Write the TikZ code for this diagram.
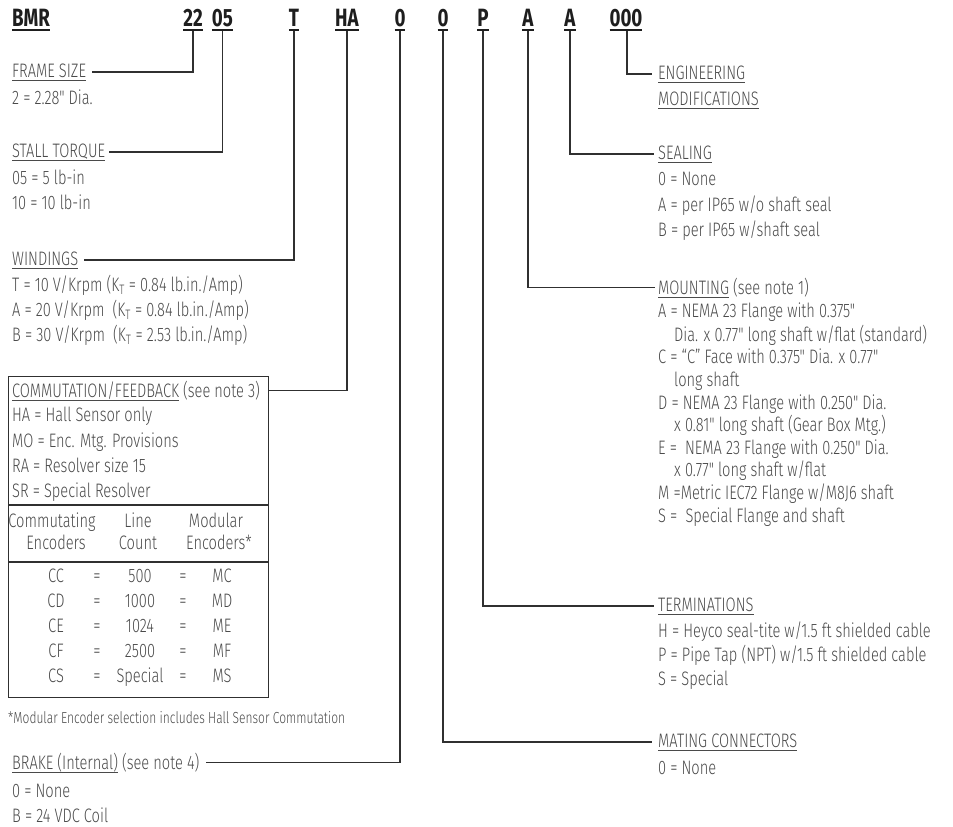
\documentclass[tikz,border=0pt]{standalone}
\usepackage{fontspec}
\IfFontExistsTF{Fira Sans Light}{%
  \setmainfont{Fira Sans Light}[FakeStretch=0.75, Ligatures=TeXOff, BoldFont={Fira Sans Bold}]}{%
  \setmainfont{Fira Sans}[FakeStretch=0.75, Ligatures=TeXOff]}
\definecolor{txtgray}{HTML}{4A4A4A}
\definecolor{linegray}{HTML}{303030}
\definecolor{codeblack}{HTML}{1E1E1E}
\newcommand\ulx[3]{\setbox0=\hbox{#3}\leavevmode\rlap{\rule[-#1]{\wd0}{#2}}\box0\relax}
\newcommand\hd[1]{\ulx{3.5pt}{0.9pt}{#1}}
\newcommand\cd[1]{\ulx{5pt}{1.8pt}{#1}}
\newcommand\KT{K\textsubscript{T}}
\begin{document}
\begin{tikzpicture}[x=1pt,y=-1pt,
  txt/.style={anchor=base west, inner sep=0pt, text=txtgray, font=\fontsize{19.5}{22}\selectfont},
  ctr/.style={anchor=base, inner sep=0pt, text=txtgray, font=\fontsize{19.5}{22}\selectfont},
  code/.style={anchor=base, inner sep=0pt, text=codeblack, font=\fontsize{25}{30}\selectfont\bfseries},
  ln/.style={draw=linegray, line width=1.2pt}]
\useasboundingbox (0,0) rectangle (953,827);
% ---------- code row ----------
\node[code] (cBMR) at (31,26) {\cd{BMR}};
\node[code] (c22) at (193,26) {\cd{22}};
\node[code] (c05) at (222.5,26) {\cd{05}};
\node[code] (cT) at (294,26) {\cd{T}};
\node[code] (cHA) at (347,26) {\cd{HA}};
\node[code] (cB0) at (400,26) {\cd{0}};
\node[code] (cM0) at (443,26) {\cd{0}};
\node[code] (cP) at (483,26) {\cd{P}};
\node[code] (cA1) at (528,26) {\cd{A}};
\node[code] (cA2) at (570,26) {\cd{A}};
\node[code] (c000) at (626,26) {\cd{000}};
% ---------- left column ----------
\node[txt] (hFrame) at (12,77) {\hd{FRAME SIZE}};
\node[txt] at (12,104) {2 = 2.28" Dia.};
\node[txt] (hStall) at (12,157) {\hd{STALL TORQUE}};
\node[txt] at (12,184) {05 = 5 lb-in};
\node[txt] at (12,209) {10 = 10 lb-in};
\node[txt] (hWind) at (12,265) {\hd{WINDINGS}};
\node[txt] at (12,291) {T = 10 V/Krpm (\KT{} = 0.84 lb.in./Amp)};
\node[txt] at (12,316) {A = 20 V/Krpm~~(\KT{} = 0.84 lb.in./Amp)};
\node[txt] at (12,341) {B = 30 V/Krpm~~(\KT{} = 2.53 lb.in./Amp)};
% box
\node[draw=linegray, line width=1.2pt, anchor=north west, minimum width=260pt, minimum height=321pt, inner sep=0pt] (box) at (8,376) {};
\draw[ln] (8,505) -- (268,505);
\draw[ln] (8,562) -- (268,562);
\node[txt] (hComm) at (12,397) {\hd{COMMUTATION/FEEDBACK} (see note 3)};
\node[txt] at (12,421) {HA = Hall Sensor only};
\node[txt] at (12,447) {MO = Enc. Mtg. Provisions};
\node[txt] at (12,472) {RA = Resolver size 15};
\node[txt] at (12,497) {SR = Special Resolver};
\node[ctr] at (52,527) {Commutating};
\node[ctr] at (56,549) {Encoders};
\node[ctr] at (138,527) {Line};
\node[ctr] at (138,549) {Count};
\node[ctr] at (216,527) {Modular};
\node[ctr] at (219,549) {Encoders*};
\foreach \a/\b/\c [count=\i from 0] in {CC/500/MC, CD/1000/MD, CE/1024/ME, CF/2500/MF, CS/Special/MS}{
  \node[ctr] at (56,{582+25*\i}) {\a};
  \node[ctr] at (97,{582+25*\i}) {=};
  \node[ctr] at (140,{582+25*\i}) {\b};
  \node[ctr] at (183,{582+25*\i}) {=};
  \node[ctr] at (222,{582+25*\i}) {\c};
}
\node[txt, font=\fontsize{16}{18}\selectfont] at (8,723) {*Modular Encoder selection includes Hall Sensor Commutation};
\node[txt] (hBrake) at (12,769) {\hd{BRAKE (Internal)} (see note 4)};
\node[txt] at (12,797) {0 = None};
\node[txt] at (12,822) {B = 24 VDC Coil};
% ---------- right column ----------
\node[txt] (hEng) at (658,79) {\hd{ENGINEERING}};
\node[txt] at (658,105) {\hd{MODIFICATIONS}};
\node[txt] (hSeal) at (658,159) {\hd{SEALING}};
\node[txt] at (658,185) {0 = None};
\node[txt] at (658,211) {A = per IP65 w/o shaft seal};
\node[txt] at (658,236) {B = per IP65 w/shaft seal};
\node[txt] (hMount) at (658,294) {\hd{MOUNTING} (see note 1)};
\node[txt] at (658,317) {A = NEMA 23 Flange with 0.375"};
\node[txt] at (674,341) {Dia. x 0.77" long shaft w/flat (standard)};
\node[txt] at (658,363) {C = “C” Face with 0.375" Dia. x 0.77"};
\node[txt] at (674,386) {long shaft};
\node[txt] at (658,409) {D = NEMA 23 Flange with 0.250" Dia.};
\node[txt] at (674,431) {x 0.81" long shaft (Gear Box Mtg.)};
\node[txt] at (658,454) {E =~~NEMA 23 Flange with 0.250" Dia.};
\node[txt] at (674,476) {x 0.77" long shaft w/flat};
\node[txt] at (658,499) {M =Metric IEC72 Flange w/M8J6 shaft};
\node[txt] at (658,522) {S =~~Special Flange and shaft};
\node[txt] (hTerm) at (658,611) {\hd{TERMINATIONS}};
\node[txt] at (658,637) {H = Heyco seal-tite w/1.5 ft shielded cable};
\node[txt] at (658,661) {P = Pipe Tap (NPT) w/1.5 ft shielded cable};
\node[txt] at (658,685) {S = Special};
\node[txt] (hMate) at (658,747) {\hd{MATING CONNECTORS}};
\node[txt] at (658,774) {0 = None};
% ---------- connectors ----------
\draw[ln] (c22.south) |- ([xshift=6pt]hFrame.east);
\draw[ln] (c05.south) |- ([xshift=4pt]hStall.east);
\draw[ln] (cT.south) |- ([xshift=6pt]hWind.east);
\draw[ln] (cHA.south) |- (hComm -| box.east);
\draw[ln] (cB0.south) |- ([xshift=6pt]hBrake.east);
\draw[ln] (cM0.south) |- ([xshift=-6pt]hMate.west);
\draw[ln] (cP.south) |- ([xshift=-4pt]hTerm.west);
\draw[ln] (cA1.south) |- ([xshift=-3pt]hMount.west);
\draw[ln] (cA2.south) |- ([xshift=-4pt]hSeal.west);
\draw[ln] ([xshift=1pt]c000.south) |- ([xshift=-6pt]hEng.west);
\end{tikzpicture}
\end{document}
